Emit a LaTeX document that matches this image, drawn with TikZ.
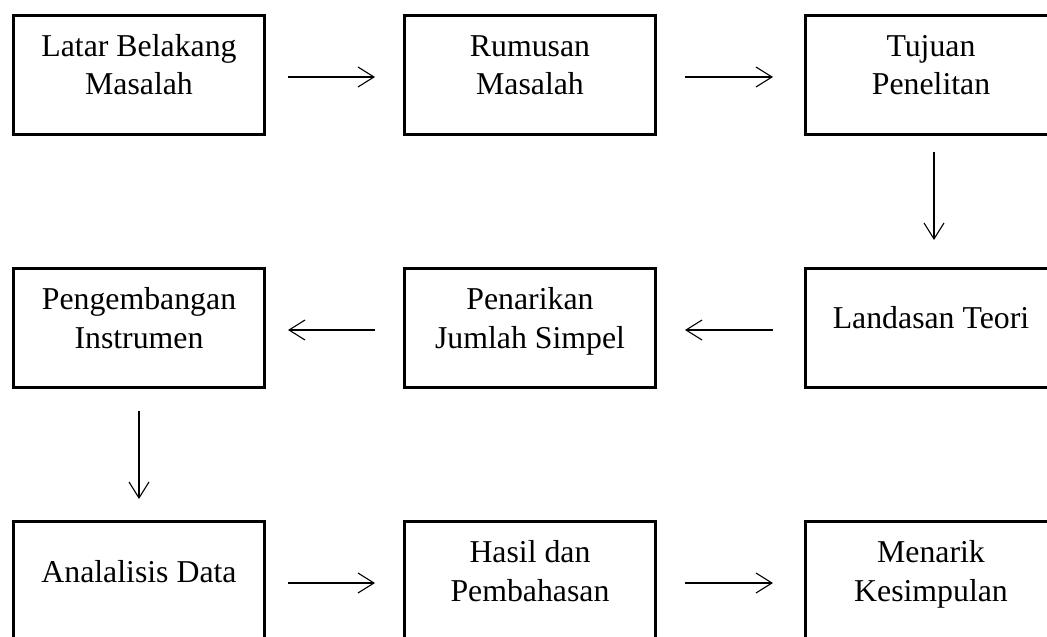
\documentclass[tikz,border=0pt]{standalone}
\usepackage{fontspec}
\setmainfont{Liberation Serif}
\usetikzlibrary{arrows.meta}
\begin{document}
\begin{tikzpicture}[x=1pt,y=-1pt,
  box/.style={draw,line width=3pt,rectangle,minimum width=251pt,minimum height=119pt,inner sep=0pt},
  txt/.style={anchor=base,inner sep=0pt,font=\fontsize{31.8}{39}\selectfont},
  arr/.style={line width=1.1pt,-{Straight Barb[length=16pt,width=20pt,line width=1.1pt]}}]
\useasboundingbox (0,0) rectangle (1047,637);
\clip (0,0) rectangle (1047,637);
\fill[white] (0,0) rectangle (1047,637);
% boxes
\node[box] (b1) at (139,75) {};
\node[box] (b2) at (530,75) {};
\node[box] (b3) at (931,75) {};
\node[box] (b4) at (139,328) {};
\node[box] (b5) at (530,328) {};
\node[box] (b6) at (931,328) {};
\node[box] (b7) at (139,581) {};
\node[box] (b8) at (530,581) {};
\node[box] (b9) at (931,581) {};
% texts
\node[txt] (t1) at ([yshift=-42pt]b1.north) {\begin{tabular}[t]{@{}c@{}}Latar Belakang\\Masalah\end{tabular}};
\node[txt] (t2) at ([yshift=-42pt]b2.north) {\begin{tabular}[t]{@{}c@{}}Rumusan\\Masalah\end{tabular}};
\node[txt] (t3) at ([yshift=-42pt]b3.north) {\begin{tabular}[t]{@{}c@{}}Tujuan\\Penelitan\end{tabular}};
\node[txt] (t4) at ([yshift=-42pt]b4.north) {\begin{tabular}[t]{@{}c@{}}Pengembangan\\Instrumen\end{tabular}};
\node[txt] (t5) at ([yshift=-42pt]b5.north) {\begin{tabular}[t]{@{}c@{}}Penarikan\\Jumlah Simpel\end{tabular}};
\node[txt] (t6) at ([yshift=-61pt]b6.north) {Landasan Teori};
\node[txt] (t7) at ([yshift=-62pt]b7.north) {Analalisis Data};
\node[txt] (t8) at ([yshift=-42pt]b8.north) {\begin{tabular}[t]{@{}c@{}}Hasil dan\\Pembahasan\end{tabular}};
\node[txt] (t9) at ([yshift=-42pt]b9.north) {\begin{tabular}[t]{@{}c@{}}Menarik\\Kesimpulan\end{tabular}};
% connectors
\draw[arr] ([xshift=22pt,yshift=-2pt]b1.east) -- ([xshift=-28pt,yshift=-2pt]b2.west);
\draw[arr] ([xshift=28pt,yshift=-2pt]b2.east) -- ([xshift=-31pt,yshift=-2pt]b3.west);
\draw[arr] ([xshift=3pt,yshift=-16pt]b3.south) -- ([xshift=3pt,yshift=27pt]b6.north);
\draw[arr] ([xshift=-31pt,yshift=-2pt]b6.west) -- ([xshift=28pt,yshift=-2pt]b5.east);
\draw[arr] ([xshift=-28pt,yshift=-2pt]b5.west) -- ([xshift=22pt,yshift=-2pt]b4.east);
\draw[arr] ([yshift=-22pt]b4.south) -- ([yshift=21pt]b7.north);
\draw[arr] ([xshift=22pt,yshift=-2pt]b7.east) -- ([xshift=-28pt,yshift=-2pt]b8.west);
\draw[arr] ([xshift=28pt,yshift=-2pt]b8.east) -- ([xshift=-31pt,yshift=-2pt]b9.west);
\end{tikzpicture}
\end{document}
